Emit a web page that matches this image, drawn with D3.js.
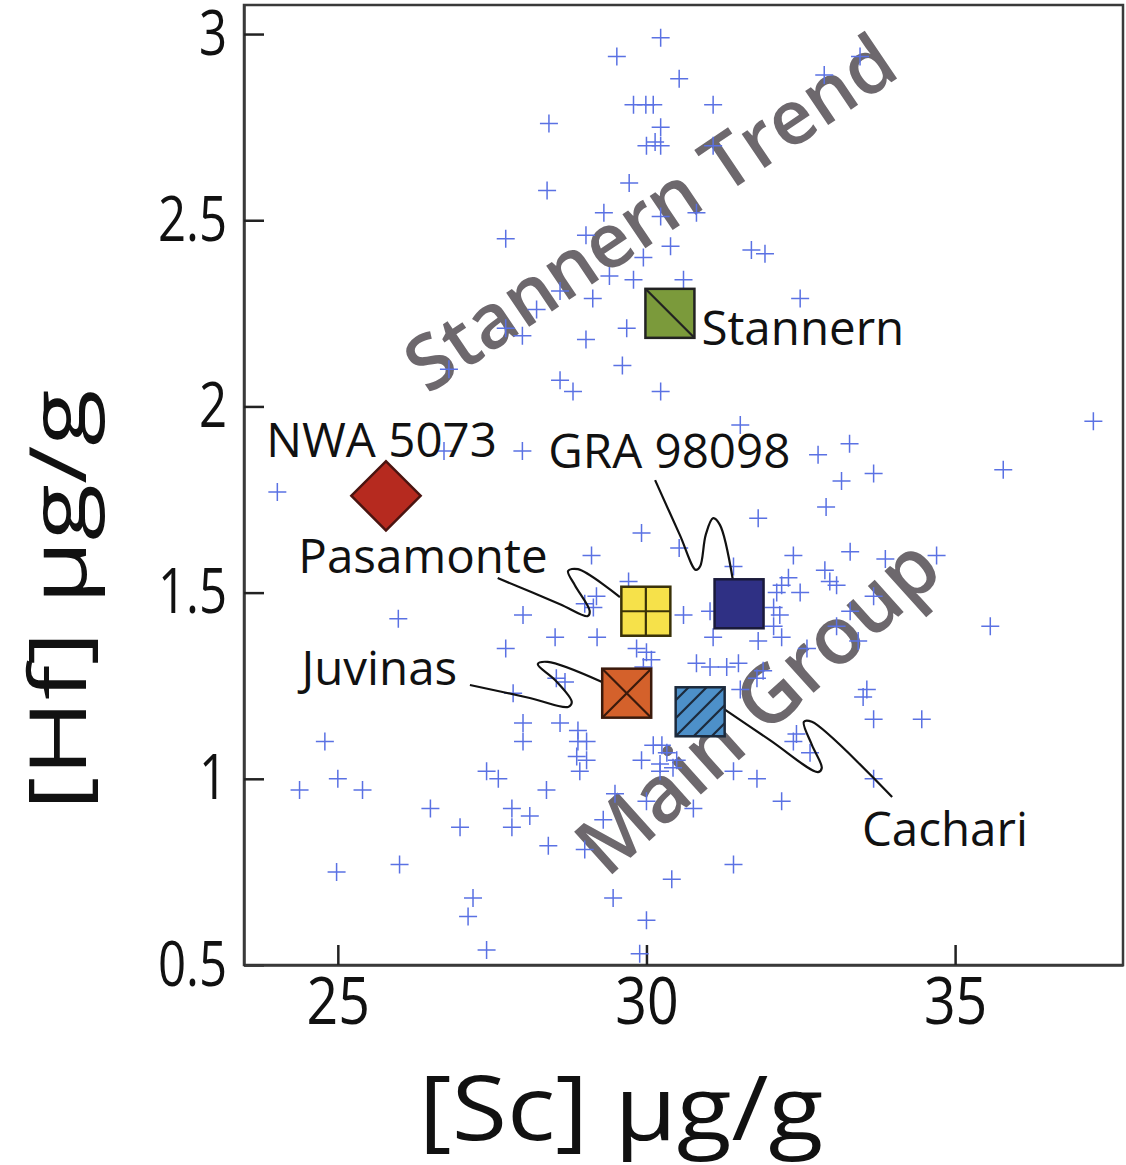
<!DOCTYPE html>
<html>
<head>
<meta charset="utf-8">
<script src="https://cdn.jsdelivr.net/npm/d3@7"></script>
<style>
body { margin: 0; background: #fff; }
text { font-family: "Open Sans", sans-serif; }
</style>
</head>
<body>
<div id="chart"></div>
<script>
var width = 1126;
var height = 1165;

// eucrite analyses, [Sc] and [Hf] in ug/g
var sc = [30.23, 29.52, 30.53, 29.79, 29.99, 30.11, 31.08, 28.42, 30.23, 30.00,
	30.14, 30.23, 31.08, 33.46, 32.88, 29.72, 28.39, 29.31, 30.23, 30.81,
	27.72, 29.02, 30.39, 31.70, 31.92, 29.95, 29.40, 29.79, 30.60, 32.49,
	28.60, 29.13, 28.22, 27.72, 27.99, 29.68, 29.02, 26.80, 29.61, 28.60,
	28.81, 30.23, 31.52, 37.24, 26.72, 27.99, 32.78, 33.29, 33.16, 33.68,
	35.78, 24.02, 29.92, 30.53, 29.11, 29.71, 29.19, 29.00, 29.14, 28.00,
	25.98, 30.60, 28.52, 29.20, 27.72, 29.84, 30.00, 30.08, 28.54, 28.68,
	29.95, 27.84, 28.00, 28.00, 28.60, 28.89, 28.89, 29.03, 28.87, 29.03,
	28.92, 24.79, 29.92, 30.25, 30.22, 30.43, 24.38, 25.00, 25.40, 27.41,
	27.60, 28.38, 29.49, 26.50, 27.82, 27.82, 28.11, 26.98, 29.30, 28.41,
	29.00, 30.41, 24.98, 26.00, 27.19, 27.11, 29.46, 30.00, 27.41, 29.89,
	32.91, 31.81, 32.38, 33.30, 33.87, 34.70, 31.41, 32.30, 32.89, 32.97,
	33.08, 32.11, 32.49, 32.19, 32.06, 32.16, 32.06, 33.30, 33.68, 31.03,
	35.57, 33.08, 31.08, 31.81, 32.19, 32.60, 33.43, 30.81, 31.03, 31.30,
	31.49, 31.89, 31.79, 31.52, 33.57, 33.51, 33.68, 34.46, 32.43, 32.38,
	32.65, 30.11, 30.33, 30.49, 30.22, 31.79, 31.41, 32.19, 33.68, 30.76,
	30.00, 31.41];
var hf = [2.99, 2.94, 2.88, 2.81, 2.81, 2.81, 2.81, 2.76, 2.75, 2.70,
	2.71, 2.70, 2.70, 2.94, 2.89, 2.60, 2.58, 2.52, 2.51, 2.52,
	2.45, 2.46, 2.43, 2.42, 2.41, 2.40, 2.35, 2.34, 2.34, 2.29,
	2.31, 2.29, 2.26, 2.21, 2.19, 2.21, 2.18, 2.10, 2.11, 2.07,
	2.04, 2.04, 1.95, 1.96, 1.88, 1.88, 1.87, 1.90, 1.80, 1.82,
	1.83, 1.77, 1.66, 1.62, 1.60, 1.53, 1.49, 1.47, 1.46, 1.44,
	1.43, 1.44, 1.38, 1.38, 1.35, 1.35, 1.34, 1.32, 1.27, 1.26,
	1.30, 1.23, 1.15, 1.10, 1.15, 1.13, 1.10, 1.10, 1.06, 1.05,
	1.02, 1.10, 1.05, 1.09, 1.04, 1.03, 0.97, 1.00, 0.97, 1.02,
	1.00, 0.97, 0.96, 0.92, 0.92, 0.87, 0.90, 0.87, 0.89, 0.82,
	0.81, 0.73, 0.75, 0.77, 0.68, 0.63, 0.68, 0.62, 0.54, 0.53,
	1.73, 1.70, 1.60, 1.61, 1.59, 1.60, 1.57, 1.54, 1.56, 1.53,
	1.52, 1.50, 1.50, 1.52, 1.46, 1.44, 1.41, 1.45, 1.49, 1.45,
	1.41, 1.41, 1.38, 1.37, 1.38, 1.35, 1.37, 1.31, 1.30, 1.30,
	1.31, 1.29, 1.27, 1.24, 1.24, 1.22, 1.16, 1.16, 1.12, 1.10,
	1.07, 1.09, 1.07, 1.05, 1.02, 1.00, 1.02, 0.94, 1.00, 0.92,
	0.94, 0.77];

// named meteorites
var sampleNames = ["NWA 5073", "Stannern", "Pasamonte", "GRA 98098", "Juvinas", "Cachari"];
var sampleSc = [25.78, 30.38, 29.99, 31.50, 29.68, 30.87];
var sampleHf = [1.76, 2.25, 1.45, 1.47, 1.23, 1.18];
var labelSc = [23.84, 30.89, 24.36, 28.41, 24.41, 33.49];
var labelHf = [1.865, 2.165, 1.552, 1.835, 1.252, 0.820];

// leader lines, in data units
var leaders = {
	"Pasamonte": [[27.59, 1.539], [28.60, 1.469], [29.05, 1.437], [29.08, 1.451], [28.84, 1.520], [28.73, 1.558], [28.89, 1.563], [29.57, 1.488]],
	"Juvinas": [[27.14, 1.252], [28.11, 1.217], [28.73, 1.193], [28.79, 1.206], [28.52, 1.265], [28.24, 1.308], [28.40, 1.314], [29.28, 1.260]],
	"GRA 98098": [[30.14, 1.802], [30.54, 1.655], [30.80, 1.561], [30.87, 1.571], [30.96, 1.655], [31.08, 1.700], [31.19, 1.682], [31.40, 1.534]],
	"Cachari": [[31.11, 1.204], [32.00, 1.104], [32.78, 1.018], [32.84, 1.029], [32.68, 1.091], [32.55, 1.153], [32.68, 1.153], [33.98, 0.951]]
};

var trendNames = ["Stannern Trend", "Main Group"];
var trendSc = [30.30, 32.10];
var trendHf = [2.46, 1.14];

var xTicks = [25, 30, 35];
var yTicks = [0.5, 1, 1.5, 2, 2.5, 3];

var sampleStyle = {
	"NWA 5073": {shape: "diamond", fill: "#b62a1f", stroke: "#4a1410"},
	"Stannern": {shape: "square", fill: "#7b9a3b", stroke: "#222", marks: "diag"},
	"Pasamonte": {shape: "square", fill: "#f6e14a", stroke: "#3a3208", marks: "plus"},
	"GRA 98098": {shape: "square", fill: "#2f3084", stroke: "#1a1a3a"},
	"Juvinas": {shape: "square", fill: "#d4612b", stroke: "#3a1a0c", marks: "x"},
	"Cachari": {shape: "square", fill: "#4d90c9", stroke: "#1c2a3c", marks: "hatch"}
};
var trendAngle = [-34, -42];
var trendSize = [76, 80];

var svg = d3.select("#chart").append("svg")
	.attr("width", width)
	.attr("height", height);

var x = d3.scaleLinear().domain([23.48, 37.72]).range([244, 1123]);
var y = d3.scaleLinear().domain([0.5, 3.078]).range([965, 5]);

// squeeze or stretch a text along its baseline
function stretch(sel, k) {
	sel.each(function() {
		var len = this.getComputedTextLength();
		d3.select(this)
			.attr("textLength", len * k)
			.attr("lengthAdjust", "spacingAndGlyphs");
	});
}

// frame
svg.append("rect")
	.attr("x", x.range()[0])
	.attr("y", y.range()[1])
	.attr("width", x.range()[1] - x.range()[0])
	.attr("height", y.range()[0] - y.range()[1])
	.attr("fill", "none")
	.attr("stroke", "#3a3a3a")
	.attr("stroke-width", 2.5);

var yAxis = svg.append("g")
	.attr("transform", "translate(" + x.range()[0] + ",0)")
	.call(d3.axisLeft(y).tickValues(yTicks).tickSizeInner(-20).tickSizeOuter(0).tickPadding(17).tickFormat(d3.format("")));
yAxis.selectAll("line").attr("stroke", "#222").attr("stroke-width", 2.5);
yAxis.select(".domain").attr("stroke", "#3a3a3a").attr("stroke-width", 2.5);
yAxis.selectAll("text")
	.attr("font-family", "Open Sans")
	.attr("font-size", 63)
	.attr("fill", "#111")
	.call(stretch, 0.78);

var xAxis = svg.append("g")
	.attr("transform", "translate(0," + y.range()[0] + ")")
	.call(d3.axisBottom(x).tickValues(xTicks).tickSizeInner(-20).tickSizeOuter(0).tickPadding(12));
xAxis.selectAll("line").attr("stroke", "#222").attr("stroke-width", 2.5);
xAxis.select(".domain").attr("stroke", "#3a3a3a").attr("stroke-width", 2.5);
xAxis.selectAll("text")
	.attr("font-family", "Open Sans")
	.attr("font-size", 66)
	.attr("fill", "#111")
	.call(stretch, 0.84);

// axis titles
svg.append("text")
	.attr("transform", "translate(86,600) rotate(-90)")
	.attr("text-anchor", "middle")
	.attr("font-size", 78)
	.attr("fill", "#111")
	.text("[Hf] \u00b5g/g")
	.call(stretch, 1.33);

svg.append("text")
	.attr("x", 621)
	.attr("y", 1140)
	.attr("text-anchor", "middle")
	.attr("font-size", 90)
	.attr("fill", "#111")
	.text("[Sc] \u00b5g/g")
	.call(stretch, 1.12);

// trend labels sit underneath the crosses
svg.selectAll(".trend")
	.data(trendNames)
	.enter()
	.append("text")
	.attr("class", "trend")
	.attr("transform", function(d, i) {
		return "translate(" + x(trendSc[i]) + "," + y(trendHf[i]) + ") rotate(" + trendAngle[i] + ")";
	})
	.attr("text-anchor", "middle")
	.attr("font-size", function(d, i) {
		return trendSize[i];
	})
	.attr("font-weight", 600)
	.attr("fill", "#6d686d")
	.text(function(d) {
		return d;
	});

// crosses
svg.selectAll(".cross")
	.data(sc)
	.enter()
	.append("path")
	.attr("class", "cross")
	.attr("d", "M-9,0H9M0,-9V9")
	.attr("transform", function(d, i) {
		return "translate(" + x(d) + "," + y(hf[i]) + ")";
	})
	.attr("stroke", "#5a71e3")
	.attr("stroke-width", 1.5)
	.attr("fill", "none");

// leader lines
var line = d3.line()
	.x(function(d) { return x(d[0]); })
	.y(function(d) { return y(d[1]); })
	.curve(d3.curveCatmullRom.alpha(0.5));

Object.keys(leaders).forEach(function(name) {
	svg.append("path")
		.attr("d", line(leaders[name]))
		.attr("fill", "none")
		.attr("stroke", "#111")
		.attr("stroke-width", 2.2);
});

// sample markers
var s = 49;
var h = s / 2;
sampleNames.forEach(function(name, i) {
	var st = sampleStyle[name];
	var g = svg.append("g")
		.attr("transform", "translate(" + x(sampleSc[i]) + "," + y(sampleHf[i]) + ")");
	if (st.shape == "diamond") {
		g.append("rect")
			.attr("x", -h).attr("y", -h)
			.attr("width", s).attr("height", s)
			.attr("transform", "rotate(45)")
			.attr("fill", st.fill)
			.attr("stroke", st.stroke)
			.attr("stroke-width", 2.5);
		return;
	}
	g.append("rect")
		.attr("x", -h).attr("y", -h)
		.attr("width", s).attr("height", s)
		.attr("fill", st.fill);
	var segs = [];
	if (st.marks == "diag") {
		segs.push([-h, -h, h, h]);
	} else if (st.marks == "plus") {
		segs.push([0, -h, 0, h], [-h, 0, h, 0]);
	} else if (st.marks == "x") {
		segs.push([-h, -h, h, h], [-h, h, h, -h]);
	} else if (st.marks == "hatch") {
		[-36, -18, 0, 18, 36].forEach(function(c) {
			if (c >= 0) {
				segs.push([c - h, h, h, c - h]);
			} else {
				segs.push([-h, c + h, c + h, -h]);
			}
		});
	}
	segs.forEach(function(p) {
		g.append("line")
			.attr("x1", p[0]).attr("y1", p[1])
			.attr("x2", p[2]).attr("y2", p[3])
			.attr("stroke", st.stroke)
			.attr("stroke-width", 2.2);
	});
	g.append("rect")
		.attr("x", -h).attr("y", -h)
		.attr("width", s).attr("height", s)
		.attr("fill", "none")
		.attr("stroke", st.stroke)
		.attr("stroke-width", 2.5);
});

// sample labels
svg.selectAll(".label")
	.data(sampleNames)
	.enter()
	.append("text")
	.attr("class", "label")
	.attr("x", function(d, i) {
		return x(labelSc[i]);
	})
	.attr("y", function(d, i) {
		return y(labelHf[i]);
	})
	.attr("font-size", 47.5)
	.attr("fill", "#111")
	.text(function(d) {
		return d;
	});
</script>
</body>
</html>
